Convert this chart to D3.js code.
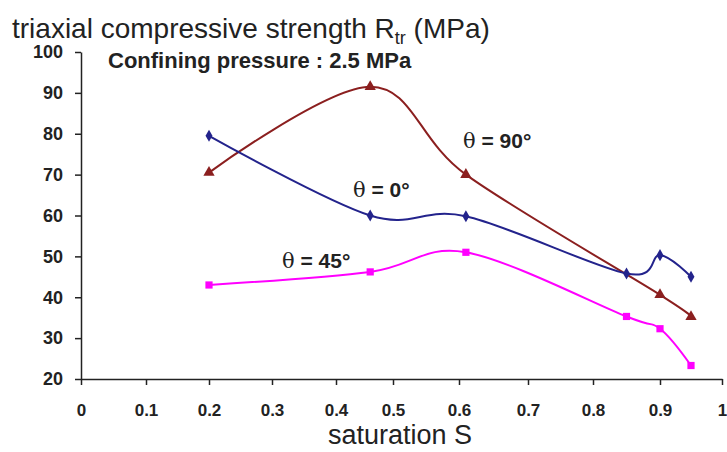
<!DOCTYPE html>
<html>
<head>
<meta charset="utf-8">
<script src="https://cdn.jsdelivr.net/npm/d3@7"></script>
<style>
  body { margin: 0; background: #fff; }
  svg { display: block; font-family: "Liberation Sans", Arial, sans-serif; }
  .axis path, .axis line { stroke: #222; stroke-width: 1.5; }
  .axis text { font-weight: bold; fill: #222; }
</style>
</head>
<body>
<div class="graph"></div>
<script>
// values
const xTicks = [0, 0.1, 0.2, 0.3, 0.4, 0.5, 0.6, 0.7, 0.8, 0.9, 1];
const yTicks = [20, 30, 40, 50, 60, 70, 80, 90, 100];

const satTheta0 = [0.2, 0.46, 0.61, 0.85, 0.9, 0.95];
const rtrTheta0 = [79.5, 60, 59.8, 45.8, 50.3, 45];

const satTheta90 = [0.2, 0.46, 0.61, 0.9, 0.95];
const rtrTheta90 = [70.5, 91.5, 70, 40.6, 35.2];

const satTheta45 = [0.2, 0.46, 0.61, 0.85, 0.9, 0.95];
const rtrTheta45 = [43, 46.2, 51, 35.3, 32.3, 23.3];

const width = 727, height = 452;

const svg = d3.select(".graph").append("svg")
    .attr("width", width)
    .attr("height", height);

// the scanned x axis is slightly uneven, so map each tick to where it sits
const tickPx = [81, 146, 209, 272, 336, 393, 459, 528, 593, 660, 722];
const x = d3.scaleLinear().domain(xTicks).range(tickPx);
const y = d3.scaleLinear().domain([20, 100]).range([379, 52]);

//Axes
svg.append("g")
    .attr("class", "x axis")
    .attr("transform", "translate(0," + y(20) + ")")
    .call(d3.axisBottom(x).tickValues(xTicks).tickFormat(d3.format("~g"))
        .tickSize(6).tickSizeOuter(0).tickPadding(19))
    .selectAll("text").style("font-size", "17px");

svg.append("g")
    .attr("class", "y axis")
    .attr("transform", "translate(" + x(0) + ",0)")
    .call(d3.axisLeft(y).tickValues(yTicks).tickSize(6).tickSizeOuter(0).tickPadding(12))
    .selectAll("text").style("font-size", "18px");

//Series
const series = [
    {sat: satTheta90, rtr: rtrTheta90, color: "#8b1f1f", symbol: d3.symbolTriangle, size: 55},
    {sat: satTheta0, rtr: rtrTheta0, color: "#23238c", symbol: d3.symbolDiamond, size: 42},
    {sat: satTheta45, rtr: rtrTheta45, color: "#ff00ff", symbol: d3.symbolSquare, size: 52}
];

const line = d3.line()
    .x(function(d){return x(d[0]);})
    .y(function(d){return y(d[1]);})
    .curve(d3.curveCardinal.tension(0));

series.forEach(function(s){
    const pts = s.sat.map(function(v, i){return [v, s.rtr[i]];});

    svg.append("path")
        .datum(pts)
        .attr("fill", "none")
        .attr("stroke", s.color)
        .attr("stroke-width", 2)
        .attr("d", line);

    svg.selectAll(null)
        .data(pts)
        .enter().append("path")
        .attr("transform", function(d){return "translate(" + x(d[0]) + "," + y(d[1]) + ")";})
        .attr("d", d3.symbol().type(s.symbol).size(s.size))
        .attr("fill", s.color);
});

//Texts
const title = svg.append("text")
    .attr("x", 12)
    .attr("y", 38)
    .style("font-size", "28px")
    .attr("fill", "#222");
title.append("tspan").text("triaxial compressive strength R");
title.append("tspan").attr("dy", 6).style("font-size", "18px").text("tr");
title.append("tspan").attr("dy", -6).text(" (MPa)");

svg.append("text")
    .attr("x", 108)
    .attr("y", 68)
    .style("font-size", "22px")
    .style("font-weight", "bold")
    .attr("fill", "#222")
    .text("Confining pressure : 2.5 MPa");

svg.append("text")
    .attr("x", 400)
    .attr("y", 444)
    .attr("text-anchor", "middle")
    .style("font-size", "27px")
    .attr("fill", "#222")
    .text("saturation S");

const labels = [
    {x: 463, y: 148, text: "90°"},
    {x: 353, y: 197, text: "0°"},
    {x: 282, y: 268, text: "45°"}
];

labels.forEach(function(l){
    const t = svg.append("text")
        .attr("x", l.x)
        .attr("y", l.y)
        .style("font-size", "21px")
        .style("font-weight", "bold")
        .attr("fill", "#222");
    t.append("tspan").style("font-family", "'DejaVu Serif', serif").style("font-weight", "normal").text("θ");
    t.append("tspan").text(" = " + l.text);
});
</script>
</body>
</html>
